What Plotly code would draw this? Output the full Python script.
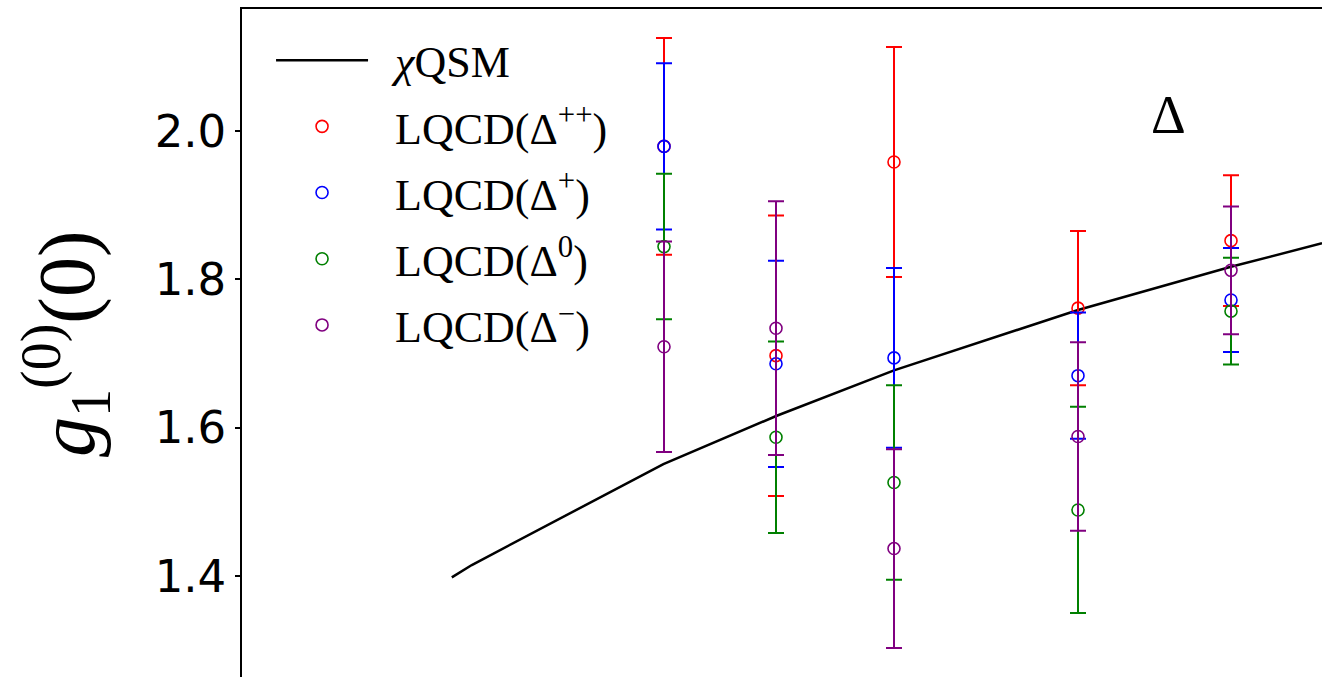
import plotly.graph_objects as go

# pion-mass-like abscissa (arbitrary units) of the lattice ensembles
x_lat = [0.311, 0.367, 0.426, 0.518, 0.5945]

# LQCD results for each Delta charge state: central values and errors
y_pp = [1.979, 1.697, 1.958, 1.761, 1.852]
e_pp = [0.146, 0.189, 0.155, 0.104, 0.088]

y_p = [1.979, 1.686, 1.694, 1.670, 1.772]
e_p = [0.112, 0.139, 0.121, 0.085, 0.070]

y_0 = [1.844, 1.587, 1.526, 1.489, 1.757]
e_0 = [0.098, 0.129, 0.131, 0.139, 0.072]

y_m = [1.709, 1.734, 1.437, 1.588, 1.812]
e_m = [0.142, 0.171, 0.134, 0.127, 0.086]

# chiral quark-soliton model curve
x_qsm = [0.2049, 0.2149, 0.3107, 0.3674, 0.426, 0.499, 0.518, 0.5945, 0.64]
y_qsm = [1.3982, 1.4148, 1.5509, 1.616, 1.6772, 1.7419, 1.7585, 1.8168, 1.8484]

serif = "Liberation Serif"
gap = "\u2002"  # spacing between legend symbol and label

fig = go.Figure()

fig.add_trace(go.Scatter(
    x=x_qsm, y=y_qsm, mode="lines",
    line=dict(color="black", width=2.5),
    name=gap + "<i>χ</i>QSM", legendgroup="qsm",
))

series = [
    ("LQCD(Δ<sup>++</sup>)", y_pp, e_pp, "red"),
    ("LQCD(Δ<sup>+</sup>)", y_p, e_p, "blue"),
    ("LQCD(Δ<sup>0</sup>)", y_0, e_0, "green"),
    ("LQCD(Δ<sup>−</sup>)", y_m, e_m, "purple"),
]
for name, ys, es, col in series:
    fig.add_trace(go.Scatter(
        x=x_lat, y=ys, mode="markers", name=gap + name, legendgroup=name,
        marker=dict(symbol="circle-open", size=12, color=col,
                    line=dict(color=col, width=1.6)),
        error_y=dict(type="data", array=es, visible=True,
                     color=col, thickness=2, width=8),
    ))

fig.add_annotation(
    x=0.5633, y=2.022, xref="x", yref="y", text="Δ", showarrow=False,
    font=dict(family=serif, size=54, color="black"),
)

fig.add_annotation(
    x=-0.163, y=0.50, xref="paper", yref="paper",
    text="<i>g</i><sub>1</sub><sup>(0)</sup>(0)", textangle=-90,
    showarrow=False, xanchor="center", yanchor="middle",
    font=dict(family=serif, size=80, color="black"),
)

fig.update_layout(
    width=1322, height=677,
    margin=dict(l=242, r=0, t=9, b=0),
    paper_bgcolor="white", plot_bgcolor="white",
    showlegend=True,
    legend=dict(
        x=0.0269, y=0.976, xanchor="left", yanchor="top",
        bgcolor="rgba(0,0,0,0)", borderwidth=0,
        font=dict(family=serif, size=44, color="black"),
        tracegroupgap=6, itemwidth=92,
    ),
)

fig.update_xaxes(
    range=[0.1, 0.64], showgrid=False, zeroline=False,
    showticklabels=False, ticks="",
    showline=True, linecolor="black", linewidth=1.5, mirror=True,
)
fig.update_yaxes(
    range=[1.2639, 2.1642], showgrid=False, zeroline=False,
    tickvals=[1.4, 1.6, 1.8, 2.0], ticktext=["1.4", "1.6", "1.8", "2.0"],
    ticks="outside", ticklen=5, tickwidth=1.5, tickcolor="black",
    tickfont=dict(family="DejaVu Sans", size=45, color="black"),
    showline=True, linecolor="black", linewidth=1.5, mirror=False,
)

fig.write_html("out.html")
